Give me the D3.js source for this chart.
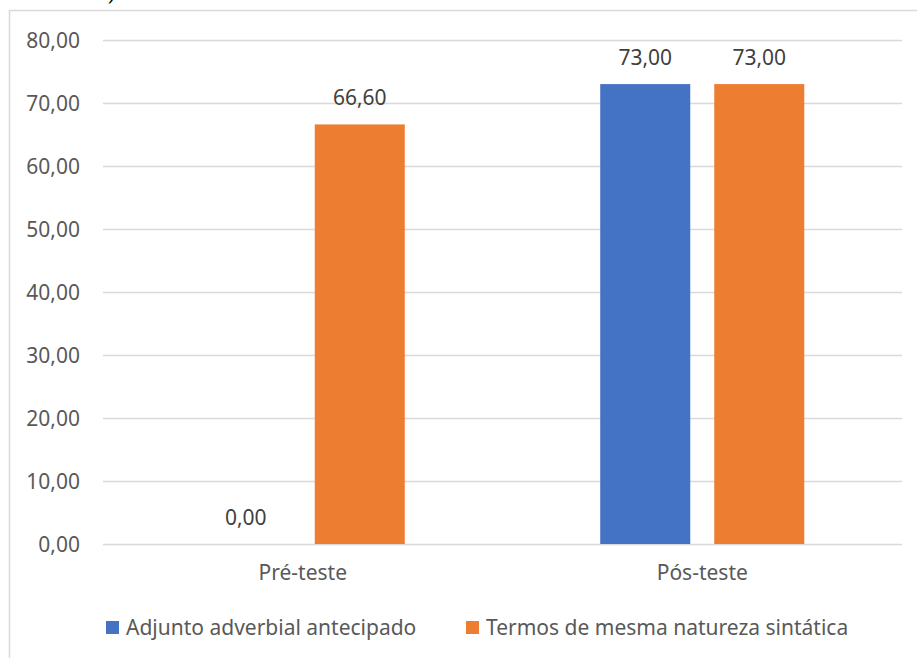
<!DOCTYPE html>
<html>
<head>
<meta charset="utf-8">
<script src="https://cdn.jsdelivr.net/npm/d3@7"></script>
<style>
  html, body { margin: 0; padding: 0; background: #ffffff; }
  svg { display: block; }
  text { font-family: "Noto Sans", "Open Sans", sans-serif; fill: #595959; }
</style>
</head>
<body>
<svg id="chart" width="917" height="658"></svg>
<script>
// Chart data
const categories = ["Pré-teste", "Pós-teste"];
const seriesNames = ["Adjunto adverbial antecipado", "Termos de mesma natureza sintática"];
const adjuntoValues = [0.00, 73.00];
const termosValues = [66.60, 73.00];
const yTicks = [0, 10, 20, 30, 40, 50, 60, 70, 80];

const colors = ["#4472C4", "#ED7D31"];
const fmt = v => v.toFixed(2).replace(".", ",");
const FS = "21px";

const svg = d3.select("#chart");
const W = 917, H = 658;
const plot = { left: 103, right: 902, top: 40, bottom: 544 };

// chart frame
svg.append("rect")
  .attr("x", 9.5).attr("y", 10.5)
  .attr("width", W + 20).attr("height", H + 20)
  .attr("fill", "#ffffff").attr("stroke", "#D9D9D9").attr("stroke-width", 1.5);

// trailing glyph of the caption above the frame
svg.append("text")
  .attr("x", 110).attr("y", 0)
  .style("font-style", "italic").style("font-size", "20px").style("fill", "#000")
  .text(")");

const x0 = d3.scaleBand().domain(categories).range([plot.left, plot.right]).padding(0);
const x1 = d3.scaleBand().domain(seriesNames).range([0, x0.bandwidth()])
  .paddingInner(0.2105).paddingOuter(0.857);
const y = d3.scaleLinear().domain([0, 80]).range([plot.bottom, plot.top]);

// gridlines
svg.append("g").selectAll("line").data(yTicks).join("line")
  .attr("x1", plot.left).attr("x2", plot.right)
  .attr("y1", d => Math.round(y(d)) + 0.5).attr("y2", d => Math.round(y(d)) + 0.5)
  .attr("stroke", "#D9D9D9").attr("stroke-width", 1.3);

// y axis labels
const yAxis = d3.axisLeft(y).tickValues(yTicks).tickFormat(fmt).tickSize(0).tickPadding(0);
const yg = svg.append("g").attr("transform", `translate(${plot.left - 23},0)`).call(yAxis);
yg.select(".domain").remove();
yg.selectAll("text").style("font-size", FS).style("fill", "#595959")
  .style("font-family", "\"Noto Sans\", sans-serif").attr("dy", "0.35em");

// x axis labels
const xAxis = d3.axisBottom(x0).tickSize(0).tickPadding(0);
const xg = svg.append("g").attr("transform", `translate(0,${plot.bottom + 21})`).call(xAxis);
xg.select(".domain").remove();
xg.selectAll("text").style("font-size", FS).style("fill", "#595959")
  .style("font-family", "\"Noto Sans\", sans-serif").attr("dy", "0.71em");

// bars
const rows = categories.map((c, i) => ({
  category: c,
  values: [
    { series: seriesNames[0], value: adjuntoValues[i], color: colors[0] },
    { series: seriesNames[1], value: termosValues[i], color: colors[1] }
  ]
}));

const groups = svg.append("g").selectAll("g").data(rows).join("g")
  .attr("transform", d => `translate(${x0(d.category)},0)`);

groups.selectAll("rect").data(d => d.values).join("rect")
  .attr("x", d => x1(d.series))
  .attr("y", d => y(d.value))
  .attr("width", x1.bandwidth())
  .attr("height", d => y(0) - y(d.value))
  .attr("fill", d => d.color);

groups.selectAll("text.val").data(d => d.values).join("text")
  .attr("class", "val")
  .attr("x", d => x1(d.series) + x1.bandwidth() / 2)
  .attr("y", d => y(d.value) - 19)
  .attr("text-anchor", "middle")
  .style("font-size", FS)
  .style("fill", "#404040")
  .text(d => fmt(d.value));

// legend
const legendItems = [
  { name: seriesNames[0], color: colors[0], x: 106 },
  { name: seriesNames[1], color: colors[1], x: 466 }
];
const lg = svg.append("g").selectAll("g").data(legendItems).join("g")
  .attr("transform", d => `translate(${d.x},621)`);
lg.append("rect").attr("width", 13).attr("height", 13).attr("fill", d => d.color);
lg.append("text").attr("x", 20).attr("y", 6.5).attr("dy", "0.35em")
  .style("font-size", FS).text(d => d.name);
</script>
</body>
</html>
